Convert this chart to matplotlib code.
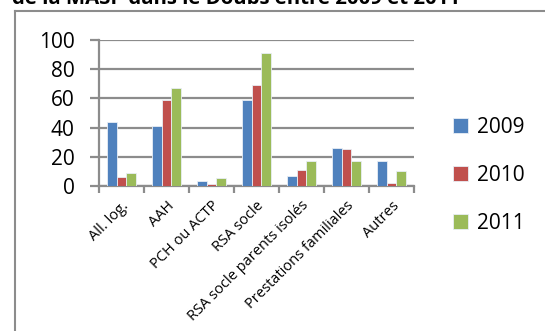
import matplotlib
matplotlib.use('Agg')
import matplotlib.pyplot as plt
import numpy as np
from matplotlib.lines import Line2D

plt.rcParams['font.family'] = ['Open Sans', 'DejaVu Sans']

# donnees
categories = ['All. log.', 'AAH', 'PCH ou ACTP', 'RSA socle',
              'RSA socle parents isolés', 'Prestations familiales', 'Autres']
annees = ['2009', '2010', '2011']
v2009 = [44, 41, 3, 59, 7, 26, 17]
v2010 = [6, 59, 1, 69, 11, 25, 2]
v2011 = [9, 67, 5, 91, 17, 17, 10]
series = [v2009, v2010, v2011]
couleurs = ['#4F81BD', '#C0504D', '#9BBB59']

W, H = 545, 331
fig = plt.figure(figsize=(W / 100, H / 100), dpi=100)
ax = fig.add_axes([99 / W, 1 - 185.7 / H, (414 - 99) / W, (185.7 - 40.3) / H])

x = np.arange(len(categories))
larg = 0.22
for i, (vals, c, lab) in enumerate(zip(series, couleurs, annees)):
    ax.bar(x + (i - 1) * larg, vals, width=larg, color=c, label=lab,
           edgecolor='#e8eef5', linewidth=0.6, zorder=3)

ax.set_xlim(-0.5, len(categories) - 0.5)
ax.set_ylim(0, 100)
ax.set_yticks([0, 20, 40, 60, 80, 100])
ax.yaxis.grid(True, color='#8c8c8c', linewidth=1.6, zorder=0)
ax.set_axisbelow(True)

# ticks aux limites des categories
ax.set_xticks(np.arange(len(categories) + 1) - 0.5)
ax.set_xticklabels([])
ax.set_xticks(x, minor=True)
ax.set_xticklabels(categories, minor=True, rotation=45, ha='right',
                   rotation_mode='anchor', fontsize=10.5)
ax.tick_params(axis='x', which='minor', length=0, pad=9)
ax.tick_params(axis='x', which='major', length=5, width=1.6, color='#8c8c8c')
ax.tick_params(axis='y', length=6.5, width=1.6, color='#8c8c8c', labelsize=15, pad=11)

for s in ['top', 'right']:
    ax.spines[s].set_visible(False)
for s in ['left', 'bottom']:
    ax.spines[s].set_color('#8c8c8c')
    ax.spines[s].set_linewidth(1.6)

leg = ax.legend(loc='upper left', bbox_to_anchor=(434 / W, 1 - 98 / H),
                bbox_transform=fig.transFigure, frameon=False, fontsize=15,
                handlelength=0.75, handleheight=0.75, handletextpad=0.4,
                labelspacing=1.3)

# cadre du graphique
fig.add_artist(Line2D([15 / W, 15 / W], [0, 1 - 11 / H], transform=fig.transFigure,
                      color='#8c8c8c', linewidth=1.5))
fig.add_artist(Line2D([15 / W, 1], [1 - 11 / H, 1 - 11 / H], transform=fig.transFigure,
                      color='#8c8c8c', linewidth=1.5))

fig.text(12 / W, 1 - 4.5 / H, 'de la MASP dans le Doubs entre 2009 et 2011',
         fontsize=14.7, fontweight='bold', va='baseline', ha='left')

fig.savefig('out.png', dpi=100)
